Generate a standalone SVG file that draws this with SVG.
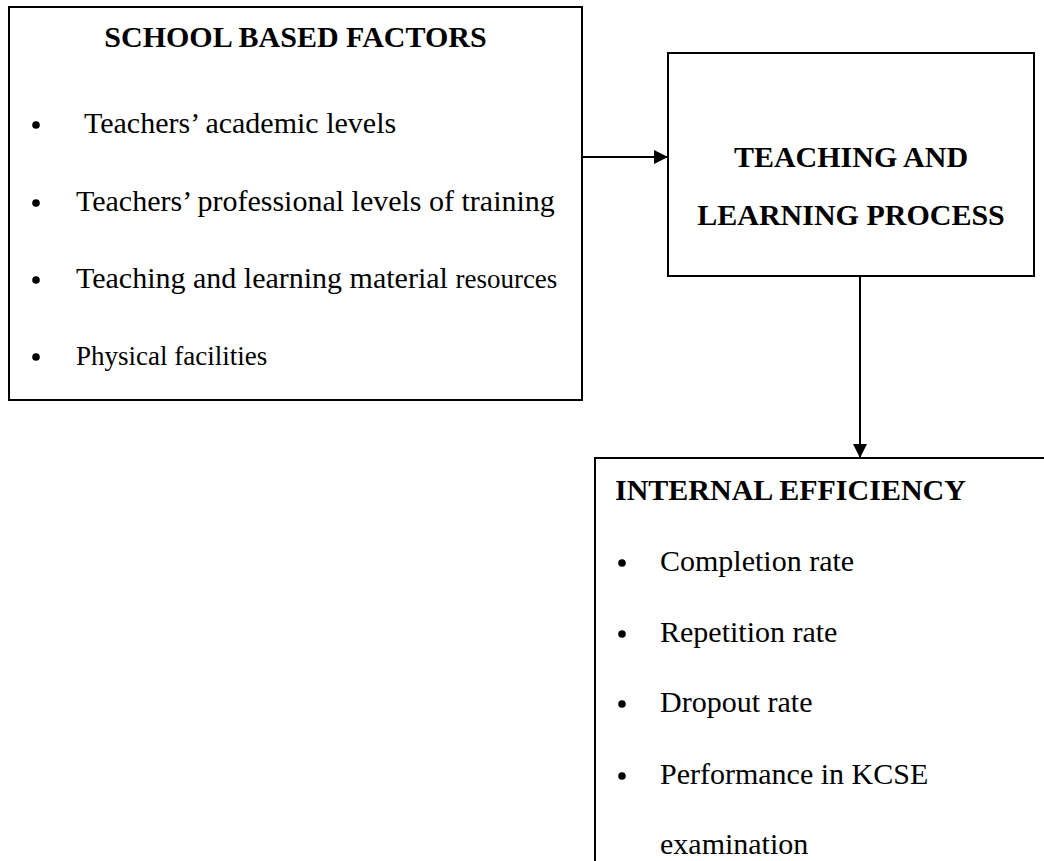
<svg xmlns="http://www.w3.org/2000/svg" width="1044" height="861" viewBox="0 0 1044 861">
<style>
.box{fill:#fff;stroke:#000;stroke-width:2}
.t{font-family:"Liberation Serif","Times New Roman",serif;fill:#000}
.b{font-weight:bold;font-size:30px}
.n{font-size:30px}
.s{font-size:27px}
.bul{fill:#000}
.con{stroke:#000;stroke-width:2;fill:none}
</style>
<defs>
<marker id="ah" viewBox="0 0 14 14" refX="14" refY="7" markerWidth="14" markerHeight="14" markerUnits="userSpaceOnUse" orient="auto">
<path d="M0,0 L14,7 L0,14 Z" fill="#000"/>
</marker>
</defs>
<rect width="1044" height="861" fill="#fff"/>
<g id="school-based-factors">
<rect class="box" x="9" y="7" width="573" height="393"/>
<text class="t b" x="295.5" y="47" text-anchor="middle">SCHOOL BASED FACTORS</text>
<circle class="bul" cx="36" cy="125" r="3.8"/>
<text class="t n" x="84" y="133">Teachers’ academic levels</text>
<circle class="bul" cx="36" cy="203" r="3.8"/>
<text class="t n" x="76" y="211">Teachers’ professional levels of training</text>
<circle class="bul" cx="36" cy="280" r="3.8"/>
<text class="t n" x="76" y="288">Teaching and learning material <tspan class="s">resources</tspan></text>
<circle class="bul" cx="36" cy="357" r="3.8"/>
<text class="t s" x="76" y="365">Physical facilities</text>
</g>
<g id="teaching-learning-process">
<rect class="box" x="668" y="53" width="366" height="223"/>
<text class="t b" x="851" y="167" text-anchor="middle">TEACHING AND</text>
<text class="t b" x="851" y="225" text-anchor="middle">LEARNING PROCESS</text>
</g>
<g id="internal-efficiency">
<rect class="box" x="595" y="458" width="520" height="480"/>
<text class="t b" x="615" y="500">INTERNAL EFFICIENCY</text>
<circle class="bul" cx="622" cy="563" r="3.8"/>
<text class="t n" x="660" y="571">Completion rate</text>
<circle class="bul" cx="622" cy="634" r="3.8"/>
<text class="t n" x="660" y="642">Repetition rate</text>
<circle class="bul" cx="622" cy="704" r="3.8"/>
<text class="t n" x="660" y="712">Dropout rate</text>
<circle class="bul" cx="622" cy="776" r="3.8"/>
<text class="t n" x="660" y="784">Performance in KCSE</text>
<text class="t n" x="660" y="854">examination</text>
</g>
<g id="connectors">
<line class="con" x1="582" y1="157" x2="668" y2="157" marker-end="url(#ah)"/>
<line class="con" x1="860" y1="276" x2="860" y2="458" marker-end="url(#ah)"/>
</g>
</svg>
